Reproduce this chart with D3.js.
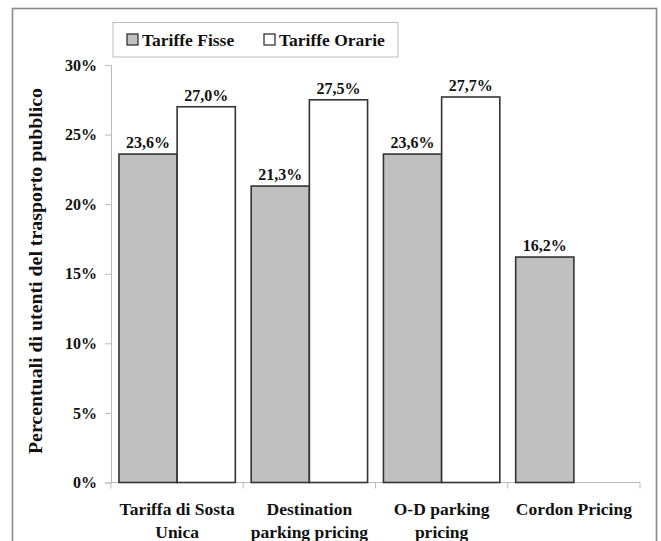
<!DOCTYPE html>
<html><head><meta charset="utf-8">
<script src="https://cdn.jsdelivr.net/npm/d3@7"></script>
<style>body{margin:0;background:#fff}svg{display:block}</style>
</head><body><svg id="c" width="661" height="541"></svg>
<script>
const categories = [["Tariffa di Sosta","Unica"],["Destination","parking pricing"],["O-D parking","pricing"],["Cordon Pricing"]];
const seriesNames = ["Tariffe Fisse","Tariffe Orarie"];
const fisse = [23.6, 21.3, 23.6, 16.2];
const orarie = [27.0, 27.5, 27.7, null];
const yTicks = [0,5,10,15,20,25,30];
const colors = ["#c0c0c0","#ffffff"];

(function(){
const FONT = "'Liberation Serif', 'Times New Roman', Times, serif";
const svg = d3.select("#c");
svg.append("rect").attr("x",12.5).attr("y",8.5).attr("width",644).attr("height",600)
  .attr("fill","#fff").attr("stroke","#8a8a8a").attr("stroke-width",1.6);

const pl=111,pr=640,pt=65,pb=482.5;
const keys = categories.map(c=>c.join(" "));
const x0 = d3.scaleBand().domain(keys).range([pl,pr]).paddingInner(0.12).paddingOuter(0.06);
const x1 = d3.scaleBand().domain(seriesNames).range([0,x0.bandwidth()]);
const y = d3.scaleLinear().domain([0,30]).range([pb,pt]);

const yAxis = d3.axisLeft(y).tickValues(yTicks).tickSize(6).tickFormat(d=>d+"%");
const gy = svg.append("g").attr("transform",`translate(${pl},0)`).call(yAxis)
  .attr("font-family",FONT).attr("font-size",16).attr("font-weight","bold");
gy.select(".domain").attr("stroke","#bbb");
gy.selectAll(".tick line").attr("stroke","#bbb");
gy.selectAll(".tick text").attr("x",-14).attr("fill","#111");

const xb = d3.scaleLinear().domain([0,categories.length]).range([pl,pr]);
svg.append("line").attr("x1",pl).attr("x2",pr).attr("y1",pb).attr("y2",pb).attr("stroke","#bbb");
svg.selectAll(".xt").data(d3.range(categories.length+1)).join("line")
  .attr("x1",d=>xb(d)).attr("x2",d=>xb(d)).attr("y1",pb).attr("y2",pb+6).attr("stroke","#bbb");

const data = [];
keys.forEach((k,i)=>{
  [fisse[i],orarie[i]].forEach((v,j)=>{ if(v!=null) data.push({k,s:seriesNames[j],v,c:colors[j]}); });
});
svg.selectAll(".bar").data(data).join("rect")
  .attr("x",d=>x0(d.k)+x1(d.s)).attr("width",x1.bandwidth())
  .attr("y",d=>y(d.v)).attr("height",d=>y(0)-y(d.v))
  .attr("fill",d=>d.c).attr("stroke","#333").attr("stroke-width",1.6);

const tg = svg.append("g").attr("font-family",FONT).attr("font-weight","bold").attr("fill","#111");
tg.selectAll(".lbl").data(data).join("text")
  .attr("x",d=>x0(d.k)+x1(d.s)+x1.bandwidth()/2).attr("y",d=>y(d.v)-6)
  .attr("text-anchor","middle").attr("font-size",16)
  .text(d=>d.v.toFixed(1).replace(".",",")+"%");

categories.forEach((lines,i)=>{
  const cx = x0(keys[i])+x0.bandwidth()/2;
  const t = tg.append("text").attr("x",cx).attr("text-anchor","middle").attr("font-size",17.5);
  lines.forEach((l,j)=>t.append("tspan").attr("x",cx).attr("y",515+j*23).text(l));
});

tg.append("text").attr("transform","translate(42,271) rotate(-90)").attr("text-anchor","middle")
  .attr("font-size",18).attr("textLength",366).attr("lengthAdjust","spacingAndGlyphs")
  .text("Percentuali di utenti del trasporto pubblico");

const lg = svg.append("g");
lg.append("rect").attr("x",113).attr("y",22.5).attr("width",285).attr("height",34.5)
  .attr("fill","#fff").attr("stroke","#bbb");
const lx=[127,264];
seriesNames.forEach((n,i)=>{
  lg.append("rect").attr("x",lx[i]).attr("y",34).attr("width",11).attr("height",11)
    .attr("fill",colors[i]).attr("stroke","#333").attr("stroke-width",1.3);
  lg.append("text").attr("x",lx[i]+15).attr("y",45.5).attr("font-size",17.5)
    .attr("font-family",FONT).attr("font-weight","bold").attr("fill","#111").text(n);
});
})();
</script></body></html>
